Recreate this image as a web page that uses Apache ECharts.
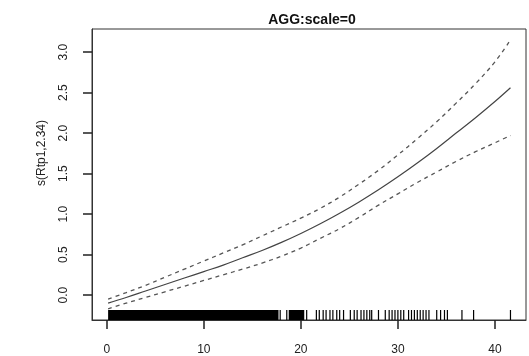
<!DOCTYPE html>
<html>
<head>
<meta charset="utf-8">
<script src="https://cdn.jsdelivr.net/npm/echarts@6/dist/echarts.min.js"></script>
<style>
  html, body { margin: 0; padding: 0; background: #fff; }
  #chart { width: 529px; height: 356px; }
</style>
</head>
<body>
<div id="chart"></div>
<script>
// x grid of the smooth and its values
const xs = [0.14, 2, 4, 6, 8, 10, 12, 14, 16, 18, 20, 22, 24, 26, 28, 30, 32, 34, 36, 38, 40, 41.6];
const fit = [-0.10, -0.03, 0.05, 0.13, 0.21, 0.29, 0.37, 0.46, 0.55, 0.65, 0.76, 0.88, 1.01, 1.15, 1.30, 1.46, 1.63, 1.81, 2.00, 2.19, 2.39, 2.56];
const upper = [-0.05, 0.03, 0.12, 0.22, 0.32, 0.42, 0.52, 0.62, 0.73, 0.84, 0.95, 1.07, 1.21, 1.37, 1.54, 1.73, 1.93, 2.14, 2.37, 2.61, 2.88, 3.15];
const lower = [-0.17, -0.10, -0.03, 0.04, 0.11, 0.18, 0.25, 0.32, 0.395, 0.48, 0.58, 0.70, 0.82, 0.96, 1.11, 1.25, 1.39, 1.52, 1.65, 1.77, 1.88, 1.97];

// rug: stretches too dense to resolve, then single observations
const rugDense = [[0.14, 17.7], [18.75, 20.35]];
const rugTicks = [17.87, 18.55, 20.6, 21.6, 21.9, 22.3, 22.6, 23.0, 23.3, 23.7, 24.0, 24.4,
  25.1, 25.5, 25.8, 26.2, 26.5, 26.8, 27.1, 27.3, 28.0, 28.7, 29.1, 29.4, 29.7, 30.0, 30.3,
  30.6, 31.1, 31.4, 31.7, 32.0, 32.3, 32.6, 32.9, 33.2, 34.0, 34.4, 34.8, 35.1, 36.6, 37.8, 41.6];

const xTicks = [0, 10, 20, 30, 40];
const yTicks = [0, 0.5, 1, 1.5, 2, 2.5, 3];
const xMin = -1.52, xMax = 43.2;
const yMin = -0.308, yMax = 3.285;

const font = 'Liberation Sans, Arial, sans-serif';
const pairs = (ys) => xs.map((x, i) => [x, ys[i]]);

const chart = echarts.init(document.getElementById('chart'));

const rugLen = 10;
const tickLen = 9;
const axisColor = '#333';

chart.setOption({
  animation: false,
  title: {
    text: 'AGG:scale=0',
    left: 307, top: 8, textAlign: 'center',
    textStyle: { fontFamily: font, fontSize: 14, fontWeight: 'bold', color: '#111' }
  },
  graphic: [{
    type: 'text', x: 42, y: 153, rotation: Math.PI / 2,
    style: {
      text: 's(Rtp1,2.34)', fontFamily: font, fontSize: 12, fill: '#222',
      align: 'center', verticalAlign: 'middle'
    }
  }],
  grid: {
    left: 92, top: 29, right: 3, bottom: 35,
    show: true, borderColor: axisColor, borderWidth: 1
  },
  xAxis: {
    type: 'value', min: xMin, max: xMax,
    axisLine: { show: true, onZero: false, lineStyle: { color: axisColor } },
    splitLine: { show: false },
    axisTick: { show: true, length: tickLen, customValues: xTicks, lineStyle: { color: '#222', width: 1.5 } },
    axisLabel: { customValues: xTicks, margin: 24, fontFamily: font, fontSize: 12, color: '#222' }
  },
  yAxis: {
    type: 'value', min: yMin, max: yMax,
    axisLine: { show: true, onZero: false, lineStyle: { color: axisColor } },
    splitLine: { show: false },
    axisTick: { show: true, length: tickLen, customValues: yTicks, lineStyle: { color: '#222', width: 1.5 } },
    axisLabel: {
      customValues: yTicks, rotate: 90, margin: 22,
      fontFamily: font, fontSize: 12, color: '#222',
      formatter: (v) => v.toFixed(1)
    }
  },
  series: [
    {
      type: 'line', data: pairs(fit), symbol: 'none', smooth: 0.4,
      lineStyle: { color: '#444', width: 1.2 }
    },
    {
      type: 'line', data: pairs(upper), symbol: 'none', smooth: 0.4,
      lineStyle: { color: '#555', width: 1.3, type: [4, 4] }
    },
    {
      type: 'line', data: pairs(lower), symbol: 'none', smooth: 0.4,
      lineStyle: { color: '#555', width: 1.3, type: [4, 4] }
    },
    {
      type: 'custom',
      data: rugDense,
      renderItem: (params, api) => {
        const a = api.coord([api.value(0), yMin]);
        const b = api.coord([api.value(1), yMin]);
        return {
          type: 'rect',
          shape: { x: a[0], y: a[1] - rugLen, width: b[0] - a[0], height: rugLen },
          style: { fill: '#000' }
        };
      }
    },
    {
      type: 'custom',
      data: rugTicks.map((x) => [x]),
      renderItem: (params, api) => {
        const p = api.coord([api.value(0), yMin]);
        return {
          type: 'line',
          shape: { x1: p[0], y1: p[1], x2: p[0], y2: p[1] - rugLen },
          style: { stroke: '#000', lineWidth: 1.2 }
        };
      }
    }
  ]
});
</script>
</body>
</html>
